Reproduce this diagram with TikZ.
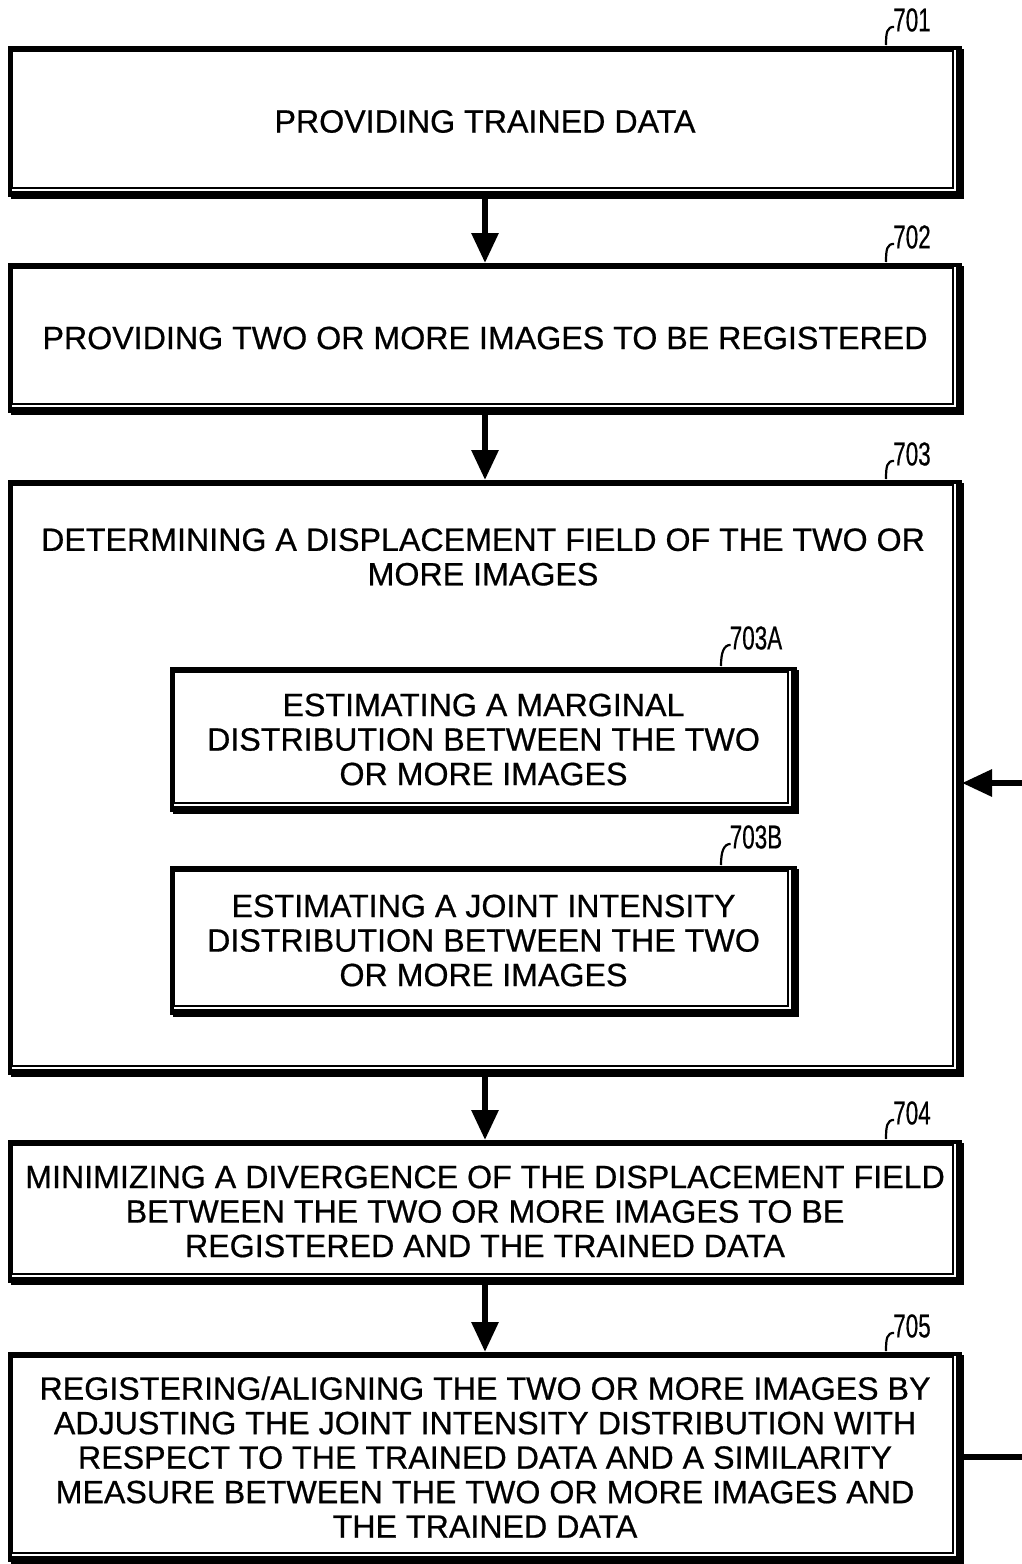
\documentclass[tikz,border=0pt]{standalone}
\usepackage{fontspec}
\setmainfont{Liberation Sans}[FakeBold=0.6]
\usetikzlibrary{arrows.meta}
\newfontfamily\boxfont{Liberation Sans}[FakeBold=0.6]
\begin{document}
\begin{tikzpicture}[x=1pt,y=1pt,
  box/.style={draw, line width=3.5, inner sep=0, align=center, font=\boxfont\fontsize{32.2}{34.5}\selectfont},
  titletext/.style={inner sep=0, align=center, font=\boxfont\fontsize{32.2}{34.5}\selectfont},
  flow/.style={line width=6, -{Triangle[length=30pt,width=26pt]}},
  reflabel/.style={font=\boxfont\fontsize{33}{33}\selectfont, inner sep=0},
  leader/.style={line width=2.2}
]
\useasboundingbox (0,0) rectangle (1022,-1564);

% boxes
\node[box, minimum width=950.5, minimum height=147.5] (b701) at (485,-121.5) {PROVIDING TRAINED DATA};
\node[box, minimum width=950.5, minimum height=146.5] (b702) at (485,-338) {PROVIDING TWO OR MORE IMAGES TO BE REGISTERED};
\node[box, minimum width=950.5, minimum height=591.5] (b703) at (485,-777.5) {};
\node[titletext] (t703) at (483,-557) {DETERMINING A DISPLACEMENT FIELD OF THE TWO OR\\MORE IMAGES};
\node[box, minimum width=623.5, minimum height=141.5] (b703A) at (483.5,-739.5) {ESTIMATING A MARGINAL\\DISTRIBUTION BETWEEN THE TWO\\OR MORE IMAGES};
\node[box, minimum width=623.5, minimum height=145.5] (b703B) at (483.5,-940.5) {ESTIMATING A JOINT INTENSITY\\DISTRIBUTION BETWEEN THE TWO\\OR MORE IMAGES};
\node[box, minimum width=950.5, minimum height=139.5] (b704) at (485,-1211.5) {MINIMIZING A DIVERGENCE OF THE DISPLACEMENT FIELD\\BETWEEN THE TWO OR MORE IMAGES TO BE\\REGISTERED AND THE TRAINED DATA};
\node[box, minimum width=950.5, minimum height=206.5] (b705) at (485,-1457) {REGISTERING/ALIGNING THE TWO OR MORE IMAGES BY\\ADJUSTING THE JOINT INTENSITY DISTRIBUTION WITH\\RESPECT TO THE TRAINED DATA AND A SIMILARITY\\MEASURE BETWEEN THE TWO OR MORE IMAGES AND\\THE TRAINED DATA};

% shadows and inner lines
\foreach \n in {b701,b702,b703,b703A,b703B,b704,b705}{
  \fill ([xshift=1.75,yshift=-3]\n.north east) rectangle ([xshift=-6,yshift=-1.75]\n.south east);
  \fill ([xshift=3,yshift=-1.75]\n.south west) rectangle ([xshift=1.75,yshift=6]\n.south east);
  \draw[line width=1.3] ([xshift=4.5,yshift=-5]\n.north west) rectangle ([xshift=-9,yshift=9]\n.south east);
}

% reference labels
\node[reflabel] (l701) at (912,-20) {\scalebox{0.68}[1]{701}};
\node[reflabel] (l702) at (912,-237) {\scalebox{0.68}[1]{702}};
\node[reflabel] (l703) at (912,-454) {\scalebox{0.68}[1]{703}};
\node[reflabel] (l703A) at (756,-638) {\scalebox{0.68}[1]{703A}};
\node[reflabel] (l703B) at (756,-837) {\scalebox{0.68}[1]{703B}};
\node[reflabel] (l704) at (912,-1113) {\scalebox{0.68}[1]{704}};
\node[reflabel] (l705) at (912,-1326) {\scalebox{0.68}[1]{705}};

\foreach \b/\l in {b701/l701,b702/l702,b703/l703,b704/l704,b705/l705,b703A/l703A,b703B/l703B}{
  \draw[leader] ([xshift=-76,yshift=1]\b.north east) .. controls +(0,13) and +(-7,0) .. ([xshift=1,yshift=5]\l.south west);
}

% flow arrows
\draw[flow] (b701.south) -- (b702.north);
\draw[flow] (b702.south) -- (b703.north);
\draw[flow] (b703.south) -- (b704.north);
\draw[flow] (b704.south) -- (b705.north);

% feedback
\coordinate (fbout) at (1022,-1457);
\coordinate (fbin) at (1022,-783);
\draw[line width=6] (b705.east) -- (fbout);
\draw[flow] (fbin) -- (b703.east |- fbin);
\end{tikzpicture}
\end{document}
